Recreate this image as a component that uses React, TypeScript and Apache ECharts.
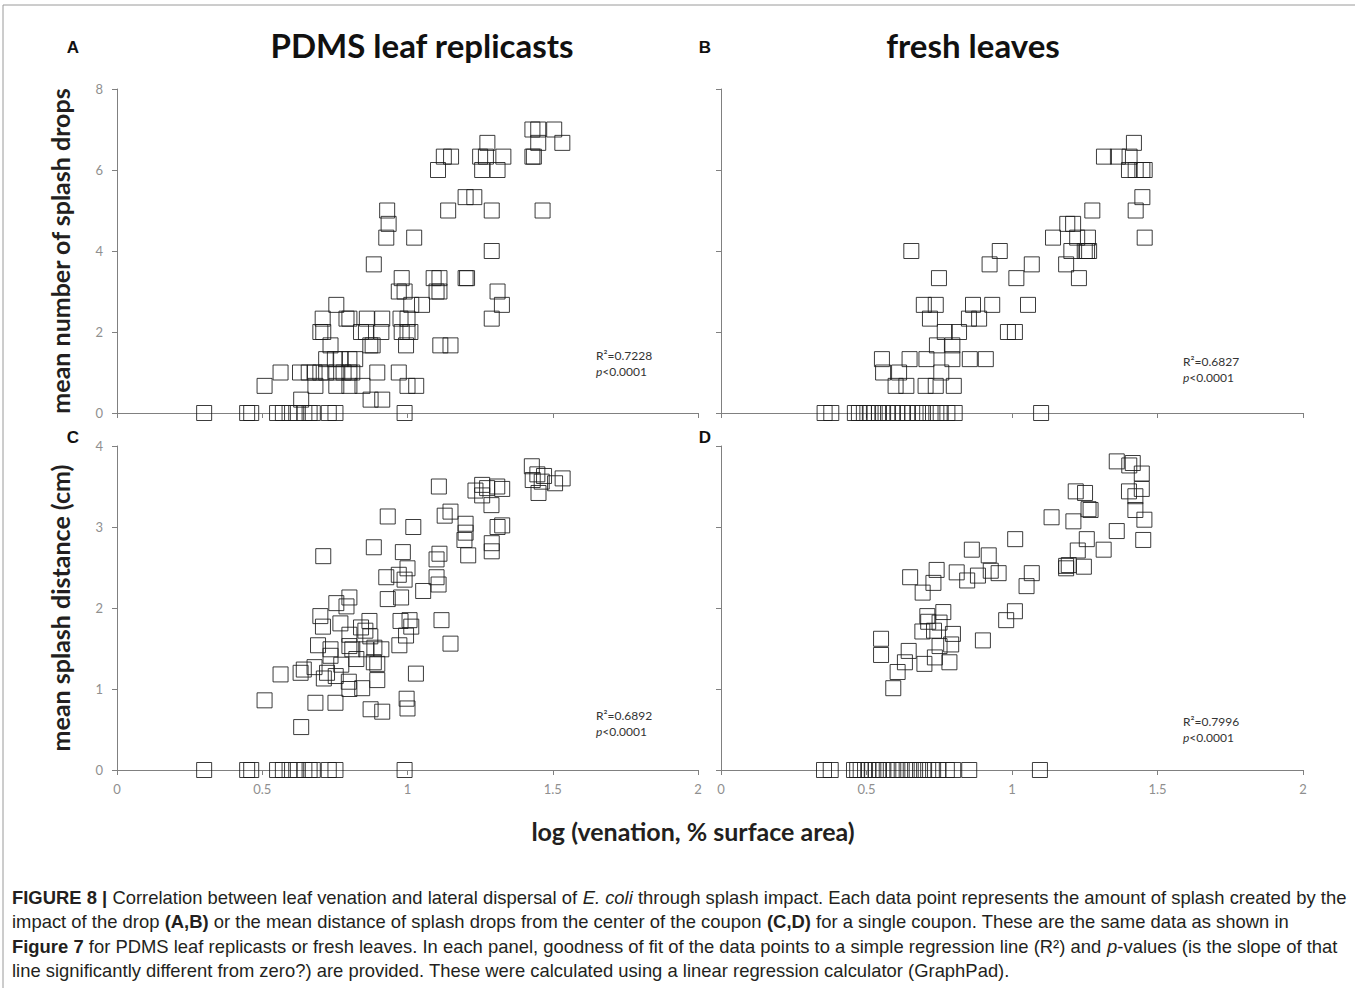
import React, { useEffect, useRef } from "react";
import * as echarts from "echarts";

// ---------- Data (x = log venation % surface area) ----------
// Panel A: PDMS leaf replicasts – mean number of splash drops
const pdmsDrops: number[][] = [
  [0.30, 0], [0.448, 0], [0.462, 0], [0.551, 0], [0.571, 0], [0.594, 0], [0.617, 0], [0.645, 0], [0.663, 0], [0.674, 0], [0.729, 0], [0.752, 0], [0.99, 0],
  [0.634, 0.33], [0.873, 0.33], [0.913, 0.33],
  [0.508, 0.67], [0.683, 0.67], [0.755, 0.67], [0.80, 0.67], [0.845, 0.67], [1.0, 0.67], [1.03, 0.67],
  [0.563, 1], [0.63, 1], [0.66, 1], [0.68, 1], [0.70, 1], [0.72, 1], [0.755, 1], [0.78, 1], [0.80, 1], [0.81, 1], [0.896, 1], [0.97, 1],
  [0.72, 1.33], [0.75, 1.33], [0.77, 1.33], [0.80, 1.33], [0.82, 1.33],
  [0.735, 1.67], [0.872, 1.67], [0.88, 1.67], [0.995, 1.67], [1.113, 1.67], [1.148, 1.67],
  [0.70, 2], [0.71, 2], [0.84, 2], [0.857, 2], [0.91, 2], [0.98, 2], [1.0, 2], [1.01, 2],
  [0.708, 2.33], [0.79, 2.33], [0.80, 2.33], [0.86, 2.33], [0.913, 2.33], [0.976, 2.33], [1.0, 2.33], [1.29, 2.33],
  [0.755, 2.67], [1.013, 2.67], [1.05, 2.67], [1.325, 2.67],
  [0.97, 3], [0.99, 3], [1.10, 3], [1.11, 3], [1.31, 3],
  [0.98, 3.33], [1.09, 3.33], [1.11, 3.33], [1.20, 3.33], [1.205, 3.33],
  [0.884, 3.67], [1.29, 4], [0.927, 4.33], [1.023, 4.33], [0.935, 4.67],
  [0.93, 5], [1.14, 5], [1.29, 5], [1.465, 5],
  [1.20, 5.33], [1.23, 5.33],
  [1.105, 6], [1.257, 6], [1.31, 6],
  [1.125, 6.33], [1.15, 6.33], [1.25, 6.33], [1.27, 6.33], [1.33, 6.33], [1.43, 6.33], [1.435, 6.33],
  [1.275, 6.67], [1.45, 6.67], [1.533, 6.67],
  [1.43, 7], [1.45, 7], [1.505, 7],
];

// Panel B: fresh leaves – mean number of splash drops
const freshDrops: number[][] = [
  [0.356, 0], [0.379, 0], [0.46, 0], [0.474, 0], [0.491, 0], [0.503, 0], [0.514, 0], [0.528, 0], [0.543, 0], [0.557, 0], [0.574, 0], [0.591, 0],
  [0.606, 0], [0.623, 0], [0.64, 0], [0.657, 0], [0.677, 0], [0.694, 0], [0.72, 0], [0.74, 0], [0.755, 0], [0.778, 0], [0.803, 0], [1.10, 0],
  [0.60, 0.67], [0.637, 0.67], [0.703, 0.67], [0.738, 0.67], [0.80, 0.67],
  [0.557, 1], [0.612, 1], [0.757, 1],
  [0.553, 1.33], [0.648, 1.33], [0.706, 1.33], [0.795, 1.33], [0.855, 1.33], [0.91, 1.33],
  [0.742, 1.67], [0.795, 1.67],
  [0.769, 2], [0.818, 2], [0.986, 2], [1.01, 2],
  [0.718, 2.33], [0.852, 2.33], [0.887, 2.33],
  [0.697, 2.67], [0.738, 2.67], [0.866, 2.67], [0.932, 2.67], [1.055, 2.67],
  [0.749, 3.33], [1.015, 3.33], [1.23, 3.33],
  [0.923, 3.67], [1.068, 3.67], [1.186, 3.67],
  [0.654, 4], [0.958, 4], [1.204, 4], [1.25, 4], [1.258, 4], [1.265, 4],
  [1.141, 4.33], [1.224, 4.33], [1.261, 4.33], [1.456, 4.33],
  [1.19, 4.67], [1.21, 4.67],
  [1.276, 5], [1.425, 5], [1.448, 5.33],
  [1.402, 6], [1.425, 6], [1.448, 6], [1.456, 6],
  [1.316, 6.33], [1.364, 6.33], [1.404, 6.33],
  [1.419, 6.67],
];

// Panel C: PDMS leaf replicasts – mean splash distance (cm)
const pdmsDistance: number[][] = [
  [0.30, 0], [0.448, 0], [0.462, 0], [0.551, 0], [0.571, 0], [0.594, 0], [0.617, 0], [0.645, 0], [0.663, 0], [0.674, 0], [0.729, 0], [0.752, 0], [0.99, 0],
  [0.932, 3.13], [1.02, 3.0], [0.71, 2.64], [0.884, 2.75], [0.984, 2.69], [0.927, 2.38], [0.97, 2.41], [1.0, 2.49], [0.99, 2.35],
  [0.755, 2.06], [0.80, 2.13], [0.79, 2.02], [0.932, 2.11], [0.978, 2.13], [0.70, 1.90], [0.709, 1.77], [0.769, 1.81],
  [0.869, 1.84], [0.84, 1.76], [0.855, 1.72], [0.872, 1.65], [0.80, 1.67], [0.976, 1.84], [1.007, 1.85], [0.995, 1.66], [1.013, 1.77],
  [0.692, 1.54], [0.735, 1.49], [0.735, 1.41], [0.80, 1.53], [0.81, 1.49], [0.858, 1.49], [0.91, 1.49], [0.886, 1.51], [0.972, 1.54],
  [0.824, 1.37], [0.884, 1.33], [0.896, 1.31], [0.772, 1.30], [0.563, 1.18], [0.632, 1.20], [0.643, 1.24], [0.68, 1.27],
  [0.723, 1.20], [0.712, 1.13], [0.753, 1.16], [0.798, 1.09], [0.80, 1.0], [0.844, 1.01], [0.896, 1.11], [1.029, 1.19],
  [0.508, 0.86], [0.683, 0.83], [0.752, 0.83], [0.873, 0.75], [0.913, 0.72], [0.997, 0.88], [1.0, 0.76], [0.634, 0.53],
  [1.428, 3.75], [1.447, 3.65], [1.431, 3.58], [1.462, 3.56], [1.508, 3.54], [1.534, 3.60], [1.451, 3.42], [1.47, 3.63],
  [1.108, 3.50], [1.234, 3.45], [1.257, 3.52], [1.274, 3.48], [1.309, 3.50], [1.326, 3.47], [1.257, 3.39], [1.289, 3.27],
  [1.128, 3.14], [1.148, 3.19], [1.20, 3.04], [1.20, 2.93], [1.196, 2.84], [1.31, 3.0], [1.326, 3.02], [1.209, 2.65],
  [1.29, 2.80], [1.29, 2.70], [1.11, 2.67], [1.10, 2.60], [1.10, 2.38], [1.107, 2.29], [1.054, 2.21], [1.117, 1.85], [1.148, 1.56],
];

// Panel D: fresh leaves – mean splash distance (cm)
const freshDistance: number[][] = [
  [0.354, 0], [0.377, 0], [0.457, 0], [0.468, 0], [0.48, 0], [0.495, 0], [0.506, 0], [0.518, 0], [0.532, 0], [0.543, 0], [0.558, 0], [0.575, 0], [0.592, 0], [0.606, 0],
  [0.621, 0], [0.638, 0], [0.652, 0], [0.667, 0], [0.684, 0], [0.698, 0], [0.712, 0], [0.729, 0], [0.747, 0], [0.776, 0], [0.798, 0], [0.853, 0], [1.096, 0],
  [0.862, 2.72], [0.92, 2.65], [0.927, 2.46], [0.954, 2.43], [0.65, 2.38], [0.741, 2.47], [0.73, 2.31], [0.693, 2.19], [0.81, 2.44], [0.846, 2.34], [0.883, 2.40],
  [0.764, 1.95], [0.709, 1.90], [0.712, 1.83], [0.751, 1.82], [0.692, 1.71], [0.732, 1.72], [0.797, 1.68], [0.791, 1.55], [0.751, 1.53], [0.90, 1.60], [0.98, 1.85],
  [0.55, 1.62], [0.55, 1.42], [0.645, 1.47], [0.632, 1.33], [0.607, 1.21], [0.699, 1.31], [0.735, 1.39], [0.785, 1.33], [0.592, 1.01],
  [1.36, 3.81], [1.403, 3.76], [1.415, 3.79], [1.446, 3.66], [1.446, 3.47], [1.402, 3.44], [1.424, 3.38], [1.424, 3.21], [1.455, 3.09], [1.451, 2.84],
  [1.219, 3.44], [1.251, 3.42], [1.263, 3.22], [1.27, 3.21], [1.136, 3.12], [1.211, 3.07], [1.257, 2.85], [1.36, 2.95], [1.315, 2.72], [1.226, 2.71],
  [1.186, 2.52], [1.195, 2.53], [1.186, 2.49], [1.247, 2.51], [1.011, 2.85], [1.068, 2.43], [1.05, 2.27], [1.01, 1.96],
];

const panelTitles = ["PDMS leaf replicasts", "fresh leaves"];
const panelLetters = ["A", "B", "C", "D"];
const r2Values = ["0.7228", "0.6827", "0.6892", "0.7996"];
const pValue = "<0.0001";
const yNames = ["mean number of splash drops", "mean splash distance (cm)"];
const xName = "log (venation, % surface area)";
const captionLines = [
  "{b|FIGURE 8 |} Correlation between leaf venation and lateral dispersal of {i|E. coli} through splash impact. Each data point represents the amount of splash created by the",
  "impact of the drop {b|(A,B)} or the mean distance of splash drops from the center of the coupon {b|(C,D)} for a single coupon. These are the same data as shown in",
  "{b|Figure 7} for PDMS leaf replicasts or fresh leaves. In each panel, goodness of fit of the data points to a simple regression line (R²) and {i|p}-values (is the slope of that",
  "line significantly different from zero?) are provided. These were calculated using a linear regression calculator (GraphPad).",
];

const AXIS = "#808080";
const TICK_LABEL = "#8f8f8f";
const TITLE_FONT = "Lato, 'Open Sans', sans-serif";

export default function App() {
  const ref = useRef<HTMLDivElement>(null);
  useEffect(() => {
    if (!ref.current) return;
    const chart = echarts.init(ref.current, undefined, { renderer: "svg" });

    const grids = [
      { left: 117, top: 89, width: 581, height: 324 },
      { left: 721, top: 89, width: 582, height: 324 },
      { left: 117, top: 446, width: 581, height: 324 },
      { left: 721, top: 446, width: 582, height: 324 },
    ];

    const xAxes = grids.map((_, i) => ({
      type: "value",
      gridIndex: i,
      min: 0,
      max: 2,
      interval: 0.5,
      axisLine: { lineStyle: { color: AXIS, width: 1 } },
      axisTick: { show: true, length: 5, lineStyle: { color: AXIS } },
      splitLine: { show: false },
      axisLabel: {
        show: i >= 2,
        color: TICK_LABEL,
        fontSize: 13,
        fontFamily: TITLE_FONT,
        margin: 12,
      },
    }));

    const yAxes = grids.map((_, i) => ({
      type: "value",
      gridIndex: i,
      min: 0,
      max: i < 2 ? 8 : 4,
      interval: i < 2 ? 2 : 1,
      axisLine: { show: true, lineStyle: { color: AXIS, width: 1 } },
      axisTick: { show: true, length: 5, lineStyle: { color: AXIS } },
      splitLine: { show: false },
      axisLabel: {
        show: i % 2 === 0,
        color: TICK_LABEL,
        fontSize: 13,
        fontFamily: TITLE_FONT,
        margin: 14,
      },
      name: i % 2 === 0 ? yNames[i / 2] : "",
      nameLocation: "middle",
      nameGap: 45,
      nameRotate: 90,
      nameTextStyle: {
        fontFamily: TITLE_FONT,
        fontWeight: "bold",
        fontSize: 25,
        color: "#231f20",
      },
    }));

    const datasets = [pdmsDrops, freshDrops, pdmsDistance, freshDistance];
    const series = datasets.map((d, i) => ({
      type: "scatter",
      xAxisIndex: i,
      yAxisIndex: i,
      data: d,
      symbol: "rect",
      symbolSize: 15,
      itemStyle: {
        color: "rgba(255,255,255,0)",
        borderColor: "#1a1a1a",
        borderWidth: 1,
        opacity: 0.85,
      },
    }));

    const letterPos = [
      [73, 47],
      [705, 47],
      [73, 437],
      [705, 437],
    ];
    const r2Pos = [
      [596, 355],
      [1183, 361],
      [596, 715],
      [1183, 721],
    ];

    const graphic: any[] = [
      { type: "line", shape: { x1: 3, y1: 5, x2: 1355, y2: 5 }, style: { stroke: "#9a9a9a", lineWidth: 1 } },
      { type: "line", shape: { x1: 3, y1: 5, x2: 3, y2: 988 }, style: { stroke: "#9a9a9a", lineWidth: 1 } },
    ];
    panelLetters.forEach((t, i) => {
      graphic.push({
        type: "text",
        x: letterPos[i][0],
        y: letterPos[i][1],
        style: {
          text: t,
          fontFamily: "'Liberation Sans', Arial, sans-serif",
          fontWeight: "bold",
          fontSize: 17,
          fill: "#111",
          textAlign: "center",
          textVerticalAlign: "middle",
        },
      });
    });
    [422, 973].forEach((cx, i) => {
      graphic.push({
        type: "text",
        x: cx,
        y: 45,
        style: {
          text: panelTitles[i],
          fontFamily: TITLE_FONT,
          fontWeight: "bold",
          fontSize: 33,
          fill: "#111",
          textAlign: "center",
          textVerticalAlign: "middle",
        },
      });
    });
    graphic.push({
      type: "text",
      x: 693,
      y: 831,
      style: {
        text: xName,
        fontFamily: TITLE_FONT,
        fontWeight: "bold",
        fontSize: 25,
        fill: "#231f20",
        textAlign: "center",
        textVerticalAlign: "middle",
      },
    });
    r2Values.forEach((v, i) => {
      graphic.push({
        type: "text",
        x: r2Pos[i][0],
        y: r2Pos[i][1],
        style: {
          text: "R²=" + v,
          fontFamily: TITLE_FONT,
          fontSize: 12,
          fill: "#333",
          textAlign: "left",
          textVerticalAlign: "middle",
        },
      });
      graphic.push({
        type: "text",
        x: r2Pos[i][0],
        y: r2Pos[i][1] + 16,
        style: {
          text: "{i|p}" + pValue,
          fontFamily: TITLE_FONT,
          fontSize: 12,
          fill: "#333",
          textAlign: "left",
          textVerticalAlign: "middle",
          rich: {
            i: { fontFamily: TITLE_FONT, fontSize: 12, fontStyle: "italic", fill: "#333" },
          },
        },
      });
    });

    const capFont = "'Liberation Sans', Arial, sans-serif";
    const capSize = 19;
    const capScale = 0.97;
    const capY = [897, 921.5, 946, 970.5];
    captionLines.forEach((line, i) => {
      graphic.push({
        type: "text",
        x: 12,
        y: capY[i],
        scaleX: capScale,
        style: {
          text: line,
          fontFamily: capFont,
          fontSize: capSize,
          fill: "#231f20",
          textAlign: "left",
          textVerticalAlign: "middle",
          rich: {
            b: { fontFamily: capFont, fontSize: capSize, fontWeight: "bold", fill: "#231f20" },
            i: { fontFamily: capFont, fontSize: capSize, fontStyle: "italic", fill: "#231f20" },
          },
        },
      });
    });

    chart.setOption({
      animation: false,
      backgroundColor: "#ffffff",
      grid: grids,
      xAxis: xAxes,
      yAxis: yAxes,
      series,
      graphic,
    });

    return () => {
      chart.dispose();
    };
  }, []);

  return (
    <div
      ref={ref}
      style={{ position: "absolute", left: 0, top: 0, width: 1355, height: 988 }}
    />
  );
}
